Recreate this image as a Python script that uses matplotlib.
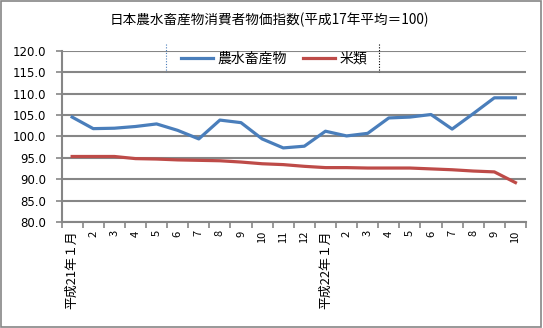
import matplotlib
matplotlib.use('Agg')
import matplotlib.pyplot as plt
from matplotlib.lines import Line2D
from matplotlib.patches import Rectangle

plt.rcParams['font.family'] = ['Noto Sans CJK JP', 'DejaVu Sans']

# Data (index, 平成17年平均 = 100)
months = ['平成21年１月', '2', '3', '4', '5', '6', '7', '8', '9', '10', '11', '12',
          '平成22年１月', '2', '3', '4', '5', '6', '7', '8', '9', '10']
agri = [104.5, 101.8, 101.9, 102.3, 102.9, 101.4, 99.4, 103.8, 103.2, 99.4, 97.3, 97.7,
        101.2, 100.1, 100.7, 104.3, 104.5, 105.1, 101.7, 105.3, 109.0, 109.0]
rice = [95.3, 95.3, 95.3, 94.8, 94.7, 94.5, 94.4, 94.3, 94.0, 93.6, 93.4, 93.0,
        92.7, 92.7, 92.6, 92.6, 92.6, 92.4, 92.2, 91.9, 91.7, 89.2]
yticks = [80, 85, 90, 95, 100, 105, 110, 115, 120]

grey = '#868686'

fig = plt.figure(figsize=(5.43, 3.28), dpi=100)
ax = fig.add_axes([0.1134, 0.3232, 0.9687 - 0.1134, 0.8454 - 0.3232])

x = list(range(len(months)))
ax.plot(x, agri, color='#4A7EBB', lw=2.3, label='農水畜産物')
ax.plot(x, rice, color='#BE4B48', lw=2.3, label='米類')

ax.set_xlim(-0.5, len(months) - 0.5)
ax.set_ylim(80, 120)
ax.set_yticks(yticks)
ax.set_yticklabels([f'{v:.1f}' for v in yticks], fontsize=8.5, family='DejaVu Sans')
ax.yaxis.grid(True, color=grey, lw=1.5)
ax.set_axisbelow(True)

# category boundaries get tick marks, centres get labels
ax.set_xticks([i - 0.5 for i in range(len(months) + 1)])
ax.set_xticklabels([])
ax.set_xticks(x, minor=True)
labels = ax.set_xticklabels(months, minor=True, rotation=90, fontsize=9.3,
                            va='top', ha='center')
for lab in labels:
    if lab.get_text().isdigit():
        lab.set_fontsize(8)
ax.tick_params(axis='x', which='minor', length=0, pad=6)
ax.tick_params(axis='x', which='major', length=4, width=1.2, color=grey, direction='out')
ax.tick_params(axis='y', length=4, width=1.2, color=grey, pad=7)

for side in ['top', 'right']:
    ax.spines[side].set_visible(False)
for side in ['left', 'bottom']:
    ax.spines[side].set_color(grey)
    ax.spines[side].set_linewidth(1.5)

fig.text(0.497, 0.939, '日本農水畜産物消費者物価指数(平成17年平均＝100)',
         ha='center', va='center', fontsize=9.8)

fig.legend(loc='center', bbox_to_anchor=(274 / 543, 1 - 59 / 328), ncol=2,
           frameon=False, fontsize=10, handlelength=2.3, handletextpad=0.3,
           columnspacing=1.2, borderpad=0)

# dotted artefacts beside the legend
fig.add_artist(Line2D([165.5 / 543] * 2, [1 - 44 / 328, 1 - 72 / 328],
                      color='#4A7EBB', lw=0.8, ls=(0, (1, 1.5))))
fig.add_artist(Line2D([378.5 / 543] * 2, [1 - 44 / 328, 1 - 72 / 328],
                      color='black', lw=0.8, ls=(0, (1, 1.5))))

# outer frame
fig.add_artist(Rectangle((0.002, 0.003), 0.995, 0.993, transform=fig.transFigure,
                         fill=False, edgecolor=grey, lw=1.2))

fig.savefig('out.png', dpi=100)
